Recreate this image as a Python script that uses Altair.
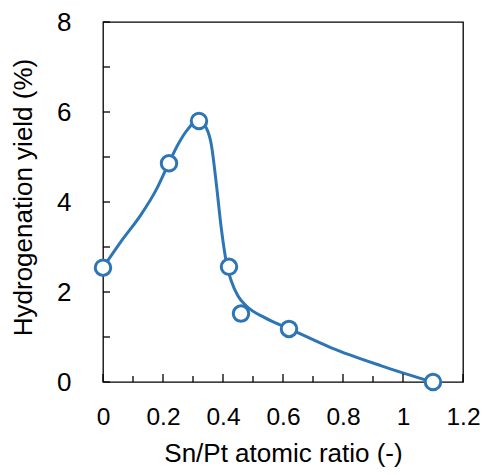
import altair as alt
import pandas as pd

# Measured data points (Sn/Pt atomic ratio, hydrogenation yield %)
ratio = [0.0, 0.22, 0.32, 0.42, 0.46, 0.62, 1.10]
yield_pct = [2.54, 4.86, 5.80, 2.56, 1.52, 1.18, 0.0]

# Smooth guide curve
curve_ratio = [0.0, 0.061, 0.128, 0.178, 0.219, 0.25, 0.283, 0.317, 0.344, 0.361,
               0.378, 0.394, 0.414, 0.428, 0.45, 0.478, 0.539, 0.622, 0.761, 0.928, 1.098]
curve_yield = [2.54, 3.13, 3.73, 4.28, 4.86, 5.28, 5.62, 5.82, 5.65, 5.28,
               4.39, 3.43, 2.56, 2.24, 1.91, 1.69, 1.43, 1.18, 0.76, 0.36, 0.0]

# Axis ticks / labels
x_labels = [0, 0.2, 0.4, 0.6, 0.8, 1.0, 1.2]
x_minor = [0.1, 0.3, 0.5, 0.7, 0.9, 1.1]
y_labels = [0, 2, 4, 6, 8]
y_ticks = [0, 1, 2, 3, 4, 5, 6, 7, 8]

BLUE = "#2E75B6"
FONT = "Liberation Sans"
W, H = 360, 360

pts = pd.DataFrame({"x": ratio, "y": yield_pct})
crv = pd.DataFrame({"x": curve_ratio, "y": curve_yield})

xs = alt.Scale(domain=[0, 1.2], nice=False, zero=False)
ys = alt.Scale(domain=[0, 8], nice=False, zero=False)

x_axis = alt.Axis(values=x_labels, format="~g", labelFontSize=24.5, labelPadding=23,
                  labelFlush=False, labelOverlap=False, ticks=False, tickSize=0,
                  domain=False, grid=False, labelColor="black",
                  title="Sn/Pt atomic ratio (-)", titleFontSize=26, titleFontWeight="normal",
                  titleColor="black", titleX=W / 2, titleY=79.5, titleAlign="center",
                  titleBaseline="alphabetic")
y_axis = alt.Axis(values=y_labels, labelFontSize=26, labelPadding=32,
                  labelOverlap=False, ticks=False, tickSize=0,
                  domain=False, grid=False, labelColor="black",
                  title="Hydrogenation yield (%)", titleFontSize=26, titleFontWeight="normal",
                  titleColor="black", titleX=-71.5, titleY=175, titleAlign="center",
                  titleAngle=-90, titleBaseline="alphabetic")

curve = alt.Chart(crv).mark_line(interpolate="monotone", color=BLUE, strokeWidth=3).encode(
    x=alt.X("x:Q", scale=xs, axis=x_axis),
    y=alt.Y("y:Q", scale=ys, axis=y_axis),
)

points = alt.Chart(pts).mark_point(shape="circle", size=240, filled=True, fill="white",
                                   stroke=BLUE, strokeWidth=3, opacity=1).encode(
    x=alt.X("x:Q", scale=xs),
    y=alt.Y("y:Q", scale=ys),
)

xmaj = alt.Chart(pd.DataFrame({"x": x_labels})).mark_rule(color="black", strokeWidth=1.3).encode(
    x=alt.X("x:Q", scale=xs), y=alt.value(H), y2=alt.value(H - 8))
xmin = alt.Chart(pd.DataFrame({"x": x_minor})).mark_rule(color="black", strokeWidth=1.3).encode(
    x=alt.X("x:Q", scale=xs), y=alt.value(H), y2=alt.value(H - 6))
ytk = alt.Chart(pd.DataFrame({"y": y_ticks})).mark_rule(color="black", strokeWidth=1.3).encode(
    y=alt.Y("y:Q", scale=ys), x=alt.value(0), x2=alt.value(7))

chart = alt.layer(curve, xmaj, xmin, ytk, points).properties(
    width=W, height=H,
    padding={"left": 95, "top": 14, "right": 17, "bottom": 85},
    autosize=alt.AutoSizeParams(type="none"),
).configure(font=FONT).configure_view(stroke="black", strokeWidth=1.3)

chart.save("out.html", embed_options={"renderer": "svg", "actions": False})
